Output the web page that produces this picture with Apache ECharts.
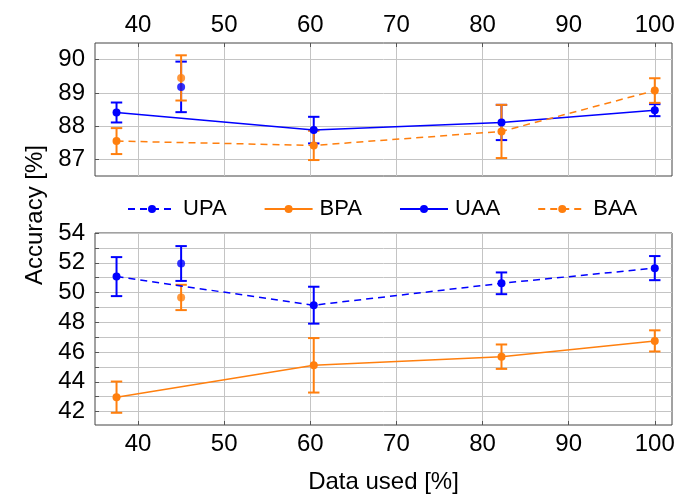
<!DOCTYPE html>
<html><head><meta charset="utf-8">
<script src="https://cdn.jsdelivr.net/npm/echarts@6/dist/echarts.min.js"></script>
<style>html,body{margin:0;padding:0;background:#fff}#c{width:678px;height:495px}</style>
</head><body><div id="c"></div>
<script>
// Data
const xUsed = [37.5, 45, 60.4, 82.2, 100];
const connected = [true, false, true, true, true];
// top panel
const uaaMean = [88.41, 89.18, 87.88, 88.11, 88.48];
const uaaErr  = [0.30, 0.76, 0.40, 0.53, 0.18];
const baaMean = [87.55, 89.45, 87.42, 87.84, 89.07];
const baaErr  = [0.39, 0.68, 0.44, 0.80, 0.37];
// bottom panel
const upaMean = [51.07, 51.95, 49.15, 50.62, 51.64];
const upaErr  = [1.31, 1.17, 1.24, 0.73, 0.81];
const bpaMean = [42.97, 49.67, 45.11, 45.69, 46.75];
const bpaErr  = [1.05, 0.85, 1.83, 0.82, 0.71];
const xTicks = [40, 50, 60, 70, 80, 90, 100];
const yTopTicks = [87, 88, 89, 90];
const yBotGrid = [42, 43, 44, 45, 46, 47, 48, 49, 50, 51, 52, 53, 54];
const yBotLabels = [42, 44, 46, 48, 50, 52, 54];

const BLUE = '#0000ff', ORANGE = '#ff7f0e';
const FONT = '"Liberation Sans", Arial, Helvetica, sans-serif';

function lineData(means){ return xUsed.map((x,i)=> connected[i] ? [x, means[i]] : [x, '-']); }
function soloData(means){ return xUsed.map((x,i)=> connected[i] ? null : [x, means[i]]).filter(d=>d); }
function errData(means, errs){ return xUsed.map((x,i)=>[x, means[i]-errs[i], means[i]+errs[i]]); }

function errRenderer(color){
  return function(params, api){
    const x = api.value(0), lo = api.value(1), hi = api.value(2);
    const a = api.coord([x, lo]), b = api.coord([x, hi]);
    const hw = 5.7;
    const style = {stroke: color, lineWidth: 2, fill: null};
    return {type:'group', children:[
      {type:'line', shape:{x1:a[0],y1:a[1],x2:b[0],y2:b[1]}, style},
      {type:'line', shape:{x1:a[0]-hw,y1:a[1],x2:a[0]+hw,y2:a[1]}, style},
      {type:'line', shape:{x1:b[0]-hw,y1:b[1],x2:b[0]+hw,y2:b[1]}, style}
    ]};
  };
}

function makeSeries(name, means, errs, color, dashed, gi){
  return [
    {type:'line', name: name, xAxisIndex: gi, yAxisIndex: gi, data: lineData(means), connectNulls: true,
     symbol:'circle', symbolSize: 8, showSymbol: true, itemStyle:{color},
     lineStyle:{color, width: 1.5, type: dashed ? [7,5] : 'solid'}, z: 4},
    {type:'scatter', name: name, xAxisIndex: gi, yAxisIndex: gi, data: soloData(means),
     symbol:'circle', symbolSize: 8, itemStyle:{color}, z: 4},
    {type:'custom', name: name, xAxisIndex: gi, yAxisIndex: gi, renderItem: errRenderer(color),
     data: errData(means, errs), encode:{x:0, y:[1,2]}, itemStyle:{color}, z: 3, silent:true}
  ];
}

const gridLine = {show:true, lineStyle:{color:'#c4c4c4', width:1}};
const tickStyle = {show:true, inside:true, length:4, lineStyle:{color:'#555'}};
const labelStyle = {color:'#000', fontSize:24, fontFamily: FONT};

const option = {
  animation: false,
  backgroundColor: '#fff',
  grid: [
    {left: 95, right: 6, top: 43, height: 133, show:true, borderColor:'#444', borderWidth:1},
    {left: 95, right: 6, top: 233, height: 194, show:true, borderColor:'#444', borderWidth:1}
  ],
  xAxis: [
    {type:'value', gridIndex:0, position:'top', min:35, max:102,
     axisLine:{show:false}, axisTick:Object.assign({customValues:xTicks}, tickStyle),
     axisLabel:Object.assign({customValues:xTicks, margin:6}, labelStyle), splitLine:gridLine},
    {type:'value', gridIndex:1, position:'bottom', min:35, max:102,
     name:'Data used [%]', nameLocation:'middle', nameGap:45,
     nameTextStyle:{color:'#000', fontSize:24, fontFamily:FONT},
     axisLine:{show:false}, axisTick:Object.assign({customValues:xTicks}, tickStyle),
     axisLabel:Object.assign({customValues:xTicks, margin:7}, labelStyle), splitLine:gridLine}
  ],
  yAxis: [
    {type:'value', gridIndex:0, min:86.5, max:90.5,
     axisLine:{show:false}, axisTick:Object.assign({customValues:yTopTicks}, tickStyle),
     axisLabel:Object.assign({customValues:yTopTicks, margin:10}, labelStyle), splitLine:gridLine},
    {type:'value', gridIndex:1, min:41.1, max:54,
     axisLine:{show:false}, axisTick:Object.assign({customValues:yBotGrid}, tickStyle),
     axisLabel:Object.assign({customValues:yBotLabels, margin:10}, labelStyle), splitLine:gridLine}
  ],
  legend: {
    top: 193, left: 122, itemGap: 37, itemWidth: 48, itemHeight: 10,
    textStyle:{color:'#000', fontSize:22, fontFamily:FONT, padding:[0,0,0,2]},
    data: ['UPA','BPA','UAA','BAA']
  },
  graphic: [
    {type:'text', x: 35, y: 215, rotation: Math.PI/2,
     style:{text:'Accuracy [%]', fill:'#000', font:'24px ' + FONT, textAlign:'center', textVerticalAlign:'middle'}}
  ],
  series: [].concat(
    makeSeries('UPA', upaMean, upaErr, BLUE, true, 1),
    makeSeries('BPA', bpaMean, bpaErr, ORANGE, false, 1),
    makeSeries('UAA', uaaMean, uaaErr, BLUE, false, 0),
    makeSeries('BAA', baaMean, baaErr, ORANGE, true, 0)
  )
};
const chart = echarts.init(document.getElementById('c'), null, {renderer:'canvas'});
chart.setOption(option);
</script></body></html>
